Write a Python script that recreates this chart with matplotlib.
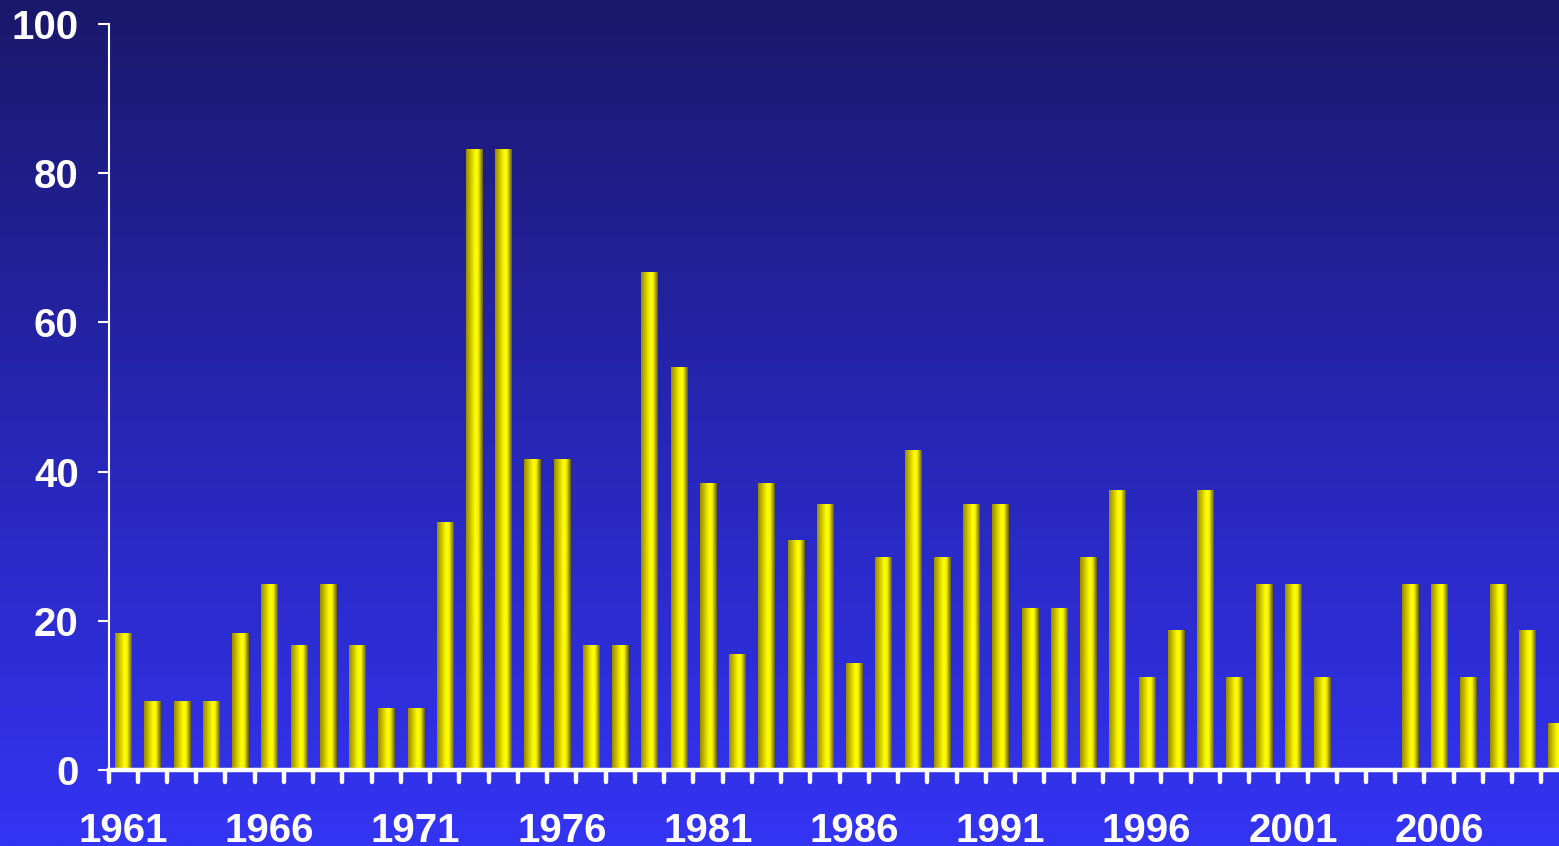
import numpy as np
import matplotlib
matplotlib.use("Agg")
import matplotlib.pyplot as plt
from matplotlib.colors import LinearSegmentedColormap

years = list(range(1961, 2011))
values = [18.3, 9.2, 9.2, 9.2, 18.3, 25.0, 16.7, 25.0, 16.7, 8.3,
          8.3, 33.3, 83.3, 83.3, 41.7, 41.7, 16.7, 16.7, 66.7, 54.0,
          38.5, 15.6, 38.5, 30.8, 35.7, 14.3, 28.6, 42.9, 28.6, 35.7,
          35.7, 21.7, 21.7, 28.6, 37.5, 12.5, 18.8, 37.5, 12.5, 25.0,
          25.0, 12.5, 0.0, 0.0, 25.0, 25.0, 12.5, 25.0, 18.8, 6.3]
label_years = [1961, 1966, 1971, 1976, 1981, 1986, 1991, 1996, 2001, 2006]
y_ticks = [0, 20, 40, 60, 80, 100]

W, H = 1559, 846
fig = plt.figure(figsize=(W / 100, H / 100), dpi=100)

# background gradient
bg = fig.add_axes([0, 0, 1, 1], zorder=-10)
bg_cmap = LinearSegmentedColormap.from_list(
    "bg", [(0.0, "#1a186a"), (0.5, "#2626b4"), (1.0, "#3434f4")])
grad = np.linspace(0, 1, 512).reshape(-1, 1)
bg.imshow(grad, aspect="auto", cmap=bg_cmap, extent=[0, 1, 0, 1], origin="upper")
bg.set_axis_off()

left = 108.5 / W
bottom = (H - 770) / H
top = (H - 24) / H
ax = fig.add_axes([left, bottom, 1 - left, top - bottom])
ax.set_facecolor("none")

bar_cmap = LinearSegmentedColormap.from_list(
    "bar", [(0.0, "#9a8a00"), (0.55, "#ffff00"), (0.72, "#f8f400"), (1.0, "#666000")])
bars = ax.bar(years, values, width=0.55, color="none", edgecolor="none", zorder=2)
hgrad = np.linspace(0, 1, 64).reshape(1, -1)
for b in bars:
    x0, w, h = b.get_x(), b.get_width(), b.get_height()
    if h <= 0:
        continue
    im = ax.imshow(hgrad, cmap=bar_cmap, aspect="auto",
                   extent=[x0, x0 + w, 0, h], zorder=2, interpolation="bilinear")
    im.set_clip_path(b)

ax.set_xlim(1960.5, 2010.1)
ax.set_ylim(0, 100)

font = "Liberation Sans"
for s in ["top", "right"]:
    ax.spines[s].set_visible(False)
ax.spines["left"].set_color("white")
ax.spines["left"].set_linewidth(1.5)
ax.spines["bottom"].set_color("white")
ax.spines["bottom"].set_linewidth(3.2)
ax.spines["bottom"].set_zorder(5)

ax.set_yticks(y_ticks)
ax.set_yticklabels([str(v) for v in y_ticks], fontname=font, fontweight="bold",
                   fontsize=29, color="white")
ax.tick_params(axis="y", colors="white", length=8, width=1.5, pad=13.5)

# x: boundary ticks (unlabelled) and label positions
boundaries = [y - 0.5 for y in years] + [years[-1] + 0.5]
ax.vlines(boundaries, -1.6, 0, colors="white", linewidth=3.2,
          capstyle="round", clip_on=False, zorder=4)
ax.set_xticks(label_years)
ax.set_xticklabels([str(y) for y in label_years], fontname=font, fontweight="bold",
                   fontsize=29, color="white")
ax.tick_params(axis="x", length=0, pad=30)

ax.set_autoscale_on(False)
fig.savefig("out.png", dpi=100)
